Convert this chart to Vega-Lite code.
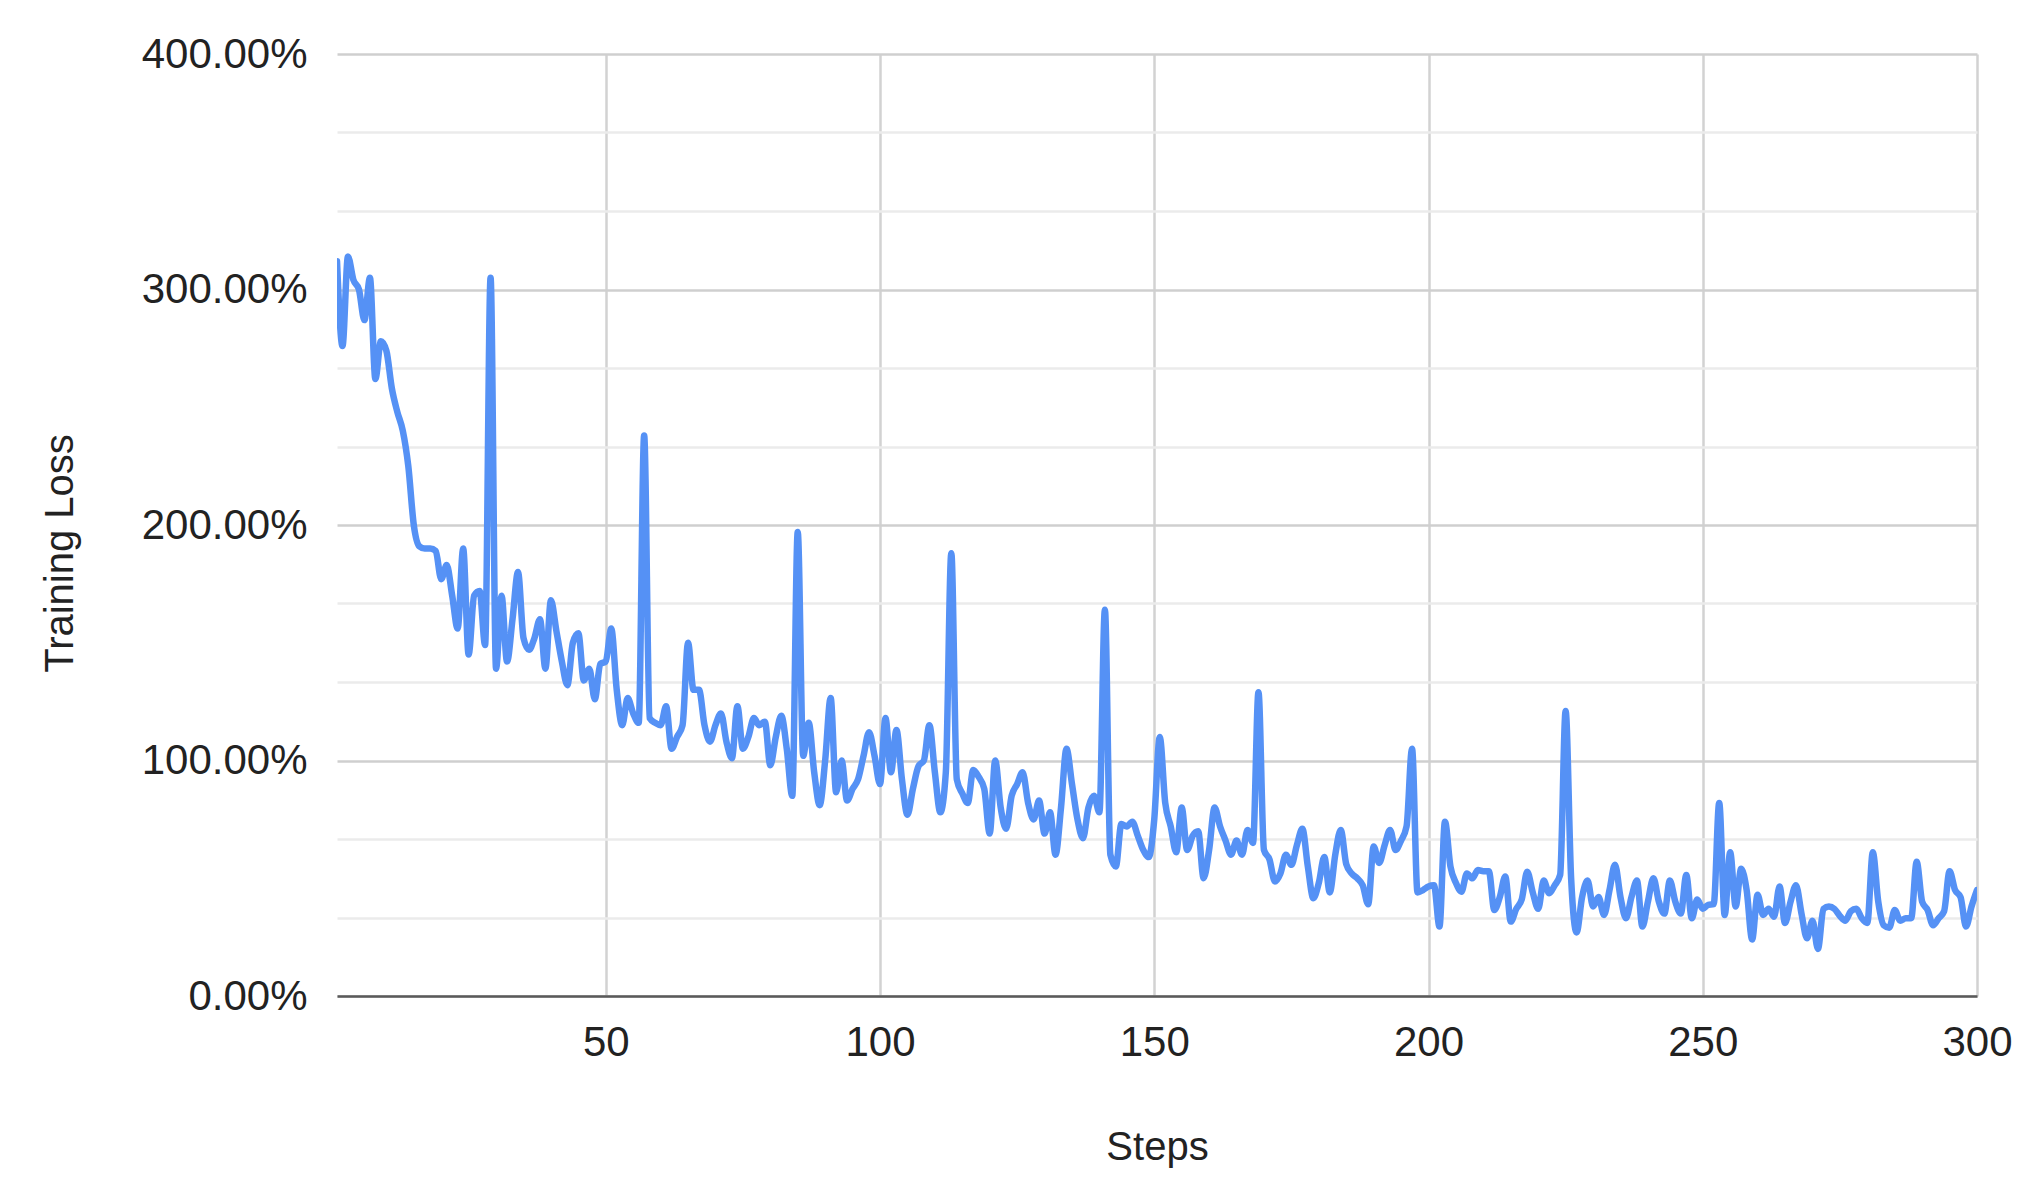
{
  "$schema": "https://vega.github.io/schema/vega-lite/v6.json",
  "width": 1640,
  "height": 942,
  "autosize": {"type": "none"},
  "padding": {"left": 337, "top": 54, "right": 56, "bottom": 204},
  "background": "white",
  "config": {
    "view": {"stroke": null},
    "font": "Liberation Sans",
    "axis": {"labelFont": "Liberation Sans", "titleFont": "Liberation Sans", "labelColor": "#222", "titleColor": "#222"}
  },
  "data": {"values": [
{"step":1,"loss":3.12},{"step":2,"loss":2.76},{"step":3,"loss":3.14},{"step":4,"loss":3.04},{"step":5,"loss":3.00},{"step":6,"loss":2.87},{"step":7,"loss":3.05},{"step":8,"loss":2.62},{"step":9,"loss":2.78},{"step":10,"loss":2.74},
{"step":11,"loss":2.58},{"step":12,"loss":2.48},{"step":13,"loss":2.40},{"step":14,"loss":2.25},{"step":15,"loss":2.00},{"step":16,"loss":1.91},{"step":17,"loss":1.90},{"step":18,"loss":1.90},{"step":19,"loss":1.89},{"step":20,"loss":1.77},
{"step":21,"loss":1.83},{"step":22,"loss":1.70},{"step":23,"loss":1.56},{"step":24,"loss":1.90},{"step":25,"loss":1.45},{"step":26,"loss":1.70},{"step":27,"loss":1.72},{"step":28,"loss":1.49},{"step":29,"loss":3.05},{"step":30,"loss":1.39},
{"step":31,"loss":1.70},{"step":32,"loss":1.42},{"step":33,"loss":1.60},{"step":34,"loss":1.80},{"step":35,"loss":1.52},{"step":36,"loss":1.47},{"step":37,"loss":1.52},{"step":38,"loss":1.60},{"step":39,"loss":1.39},{"step":40,"loss":1.68},
{"step":41,"loss":1.55},{"step":42,"loss":1.42},{"step":43,"loss":1.32},{"step":44,"loss":1.50},{"step":45,"loss":1.54},{"step":46,"loss":1.34},{"step":47,"loss":1.39},{"step":48,"loss":1.26},{"step":49,"loss":1.41},{"step":50,"loss":1.42},
{"step":51,"loss":1.56},{"step":52,"loss":1.30},{"step":53,"loss":1.15},{"step":54,"loss":1.265},{"step":55,"loss":1.20},{"step":56,"loss":1.16},{"step":57,"loss":2.38},{"step":58,"loss":1.18},{"step":59,"loss":1.16},{"step":60,"loss":1.15},
{"step":61,"loss":1.23},{"step":62,"loss":1.05},{"step":63,"loss":1.10},{"step":64,"loss":1.15},{"step":65,"loss":1.50},{"step":66,"loss":1.30},{"step":67,"loss":1.30},{"step":68,"loss":1.15},{"step":69,"loss":1.08},{"step":70,"loss":1.15},
{"step":71,"loss":1.20},{"step":72,"loss":1.08},{"step":73,"loss":1.01},{"step":74,"loss":1.23},{"step":75,"loss":1.05},{"step":76,"loss":1.10},{"step":77,"loss":1.18},{"step":78,"loss":1.15},{"step":79,"loss":1.165},{"step":80,"loss":0.98},
{"step":81,"loss":1.10},{"step":82,"loss":1.19},{"step":83,"loss":1.05},{"step":84,"loss":0.85},{"step":85,"loss":1.97},{"step":86,"loss":1.02},{"step":87,"loss":1.16},{"step":88,"loss":0.95},{"step":89,"loss":0.81},{"step":90,"loss":1.00},
{"step":91,"loss":1.265},{"step":92,"loss":0.865},{"step":93,"loss":1.00},{"step":94,"loss":0.83},{"step":95,"loss":0.88},{"step":96,"loss":0.92},{"step":97,"loss":1.02},{"step":98,"loss":1.12},{"step":99,"loss":1.02},{"step":100,"loss":0.90},
{"step":101,"loss":1.18},{"step":102,"loss":0.95},{"step":103,"loss":1.13},{"step":104,"loss":0.92},{"step":105,"loss":0.77},{"step":106,"loss":0.88},{"step":107,"loss":0.975},{"step":108,"loss":1.00},{"step":109,"loss":1.15},{"step":110,"loss":0.95},
{"step":111,"loss":0.78},{"step":112,"loss":0.95},{"step":113,"loss":1.88},{"step":114,"loss":0.92},{"step":115,"loss":0.86},{"step":116,"loss":0.82},{"step":117,"loss":0.96},{"step":118,"loss":0.93},{"step":119,"loss":0.88},{"step":120,"loss":0.69},
{"step":121,"loss":1.00},{"step":122,"loss":0.80},{"step":123,"loss":0.71},{"step":124,"loss":0.85},{"step":125,"loss":0.90},{"step":126,"loss":0.95},{"step":127,"loss":0.82},{"step":128,"loss":0.75},{"step":129,"loss":0.83},{"step":130,"loss":0.69},
{"step":131,"loss":0.78},{"step":132,"loss":0.60},{"step":133,"loss":0.80},{"step":134,"loss":1.05},{"step":135,"loss":0.90},{"step":136,"loss":0.75},{"step":137,"loss":0.67},{"step":138,"loss":0.80},{"step":139,"loss":0.85},{"step":140,"loss":0.78},
{"step":141,"loss":1.64},{"step":142,"loss":0.60},{"step":143,"loss":0.55},{"step":144,"loss":0.73},{"step":145,"loss":0.72},{"step":146,"loss":0.74},{"step":147,"loss":0.68},{"step":148,"loss":0.62},{"step":149,"loss":0.59},{"step":150,"loss":0.75},
{"step":151,"loss":1.10},{"step":152,"loss":0.82},{"step":153,"loss":0.72},{"step":154,"loss":0.61},{"step":155,"loss":0.80},{"step":156,"loss":0.62},{"step":157,"loss":0.68},{"step":158,"loss":0.70},{"step":159,"loss":0.50},{"step":160,"loss":0.62},
{"step":161,"loss":0.80},{"step":162,"loss":0.72},{"step":163,"loss":0.66},{"step":164,"loss":0.60},{"step":165,"loss":0.66},{"step":166,"loss":0.60},{"step":167,"loss":0.705},{"step":168,"loss":0.65},{"step":169,"loss":1.29},{"step":170,"loss":0.62},
{"step":171,"loss":0.58},{"step":172,"loss":0.486},{"step":173,"loss":0.52},{"step":174,"loss":0.60},{"step":175,"loss":0.557},{"step":176,"loss":0.64},{"step":177,"loss":0.71},{"step":178,"loss":0.55},{"step":179,"loss":0.415},{"step":180,"loss":0.48},
{"step":181,"loss":0.59},{"step":182,"loss":0.44},{"step":183,"loss":0.60},{"step":184,"loss":0.705},{"step":185,"loss":0.56},{"step":186,"loss":0.52},{"step":187,"loss":0.50},{"step":188,"loss":0.47},{"step":189,"loss":0.39},{"step":190,"loss":0.635},
{"step":191,"loss":0.565},{"step":192,"loss":0.64},{"step":193,"loss":0.705},{"step":194,"loss":0.62},{"step":195,"loss":0.66},{"step":196,"loss":0.72},{"step":197,"loss":1.05},{"step":198,"loss":0.44},{"step":199,"loss":0.45},{"step":200,"loss":0.465},
{"step":201,"loss":0.47},{"step":202,"loss":0.295},{"step":203,"loss":0.74},{"step":204,"loss":0.55},{"step":205,"loss":0.48},{"step":206,"loss":0.443},{"step":207,"loss":0.52},{"step":208,"loss":0.50},{"step":209,"loss":0.535},{"step":210,"loss":0.53},
{"step":211,"loss":0.53},{"step":212,"loss":0.365},{"step":213,"loss":0.42},{"step":214,"loss":0.507},{"step":215,"loss":0.316},{"step":216,"loss":0.37},{"step":217,"loss":0.41},{"step":218,"loss":0.528},{"step":219,"loss":0.44},{"step":220,"loss":0.37},
{"step":221,"loss":0.49},{"step":222,"loss":0.436},{"step":223,"loss":0.47},{"step":224,"loss":0.514},{"step":225,"loss":1.21},{"step":226,"loss":0.50},{"step":227,"loss":0.27},{"step":228,"loss":0.42},{"step":229,"loss":0.49},{"step":230,"loss":0.38},
{"step":231,"loss":0.42},{"step":232,"loss":0.344},{"step":233,"loss":0.45},{"step":234,"loss":0.557},{"step":235,"loss":0.42},{"step":236,"loss":0.33},{"step":237,"loss":0.42},{"step":238,"loss":0.49},{"step":239,"loss":0.295},{"step":240,"loss":0.40},
{"step":241,"loss":0.50},{"step":242,"loss":0.40},{"step":243,"loss":0.35},{"step":244,"loss":0.49},{"step":245,"loss":0.40},{"step":246,"loss":0.35},{"step":247,"loss":0.514},{"step":248,"loss":0.33},{"step":249,"loss":0.41},{"step":250,"loss":0.37},
{"step":251,"loss":0.387},{"step":252,"loss":0.39},{"step":253,"loss":0.82},{"step":254,"loss":0.344},{"step":255,"loss":0.61},{"step":256,"loss":0.38},{"step":257,"loss":0.54},{"step":258,"loss":0.45},{"step":259,"loss":0.24},{"step":260,"loss":0.43},
{"step":261,"loss":0.344},{"step":262,"loss":0.37},{"step":263,"loss":0.337},{"step":264,"loss":0.465},{"step":265,"loss":0.31},{"step":266,"loss":0.40},{"step":267,"loss":0.47},{"step":268,"loss":0.35},{"step":269,"loss":0.245},{"step":270,"loss":0.32},
{"step":271,"loss":0.20},{"step":272,"loss":0.37},{"step":273,"loss":0.38},{"step":274,"loss":0.37},{"step":275,"loss":0.34},{"step":276,"loss":0.32},{"step":277,"loss":0.36},{"step":278,"loss":0.37},{"step":279,"loss":0.33},{"step":280,"loss":0.31},
{"step":281,"loss":0.61},{"step":282,"loss":0.40},{"step":283,"loss":0.30},{"step":284,"loss":0.29},{"step":285,"loss":0.365},{"step":286,"loss":0.32},{"step":287,"loss":0.33},{"step":288,"loss":0.33},{"step":289,"loss":0.57},{"step":290,"loss":0.40},
{"step":291,"loss":0.365},{"step":292,"loss":0.30},{"step":293,"loss":0.33},{"step":294,"loss":0.36},{"step":295,"loss":0.53},{"step":296,"loss":0.45},{"step":297,"loss":0.42},{"step":298,"loss":0.295},{"step":299,"loss":0.38},{"step":300,"loss":0.45}
  ]},
  "mark": {"type": "line", "color": "#5591F5", "strokeWidth": 6.5, "interpolate": "monotone", "strokeJoin": "round", "strokeCap": "round", "clip": true},
  "encoding": {
    "x": {
      "field": "step", "type": "quantitative",
      "scale": {"domain": [1, 300], "nice": false, "zero": false},
      "axis": {
        "values": [50, 100, 150, 200, 250, 300],
        "title": "Steps",
        "titleFontSize": 40, "titleFontWeight": "normal",
        "titleY": 151, "titleBaseline": "middle", "titleX": 820, "titleAlign": "center",
        "labelFontSize": 42, "labelPadding": 26, "labelBaseline": "top",
        "ticks": false, "tickSize": 0,
        "grid": true, "gridColor": "#d2d2d2", "gridWidth": 2.5,
        "domain": true, "domainColor": "#5a5a5a", "domainWidth": 2.5,
        "labelFlush": false
      }
    },
    "y": {
      "field": "loss", "type": "quantitative",
      "scale": {"domain": [0, 4], "nice": false},
      "axis": {
        "values": [0, 0.333333, 0.666667, 1, 1.333333, 1.666667, 2, 2.333333, 2.666667, 3, 3.333333, 3.666667, 4],
        "format": ".2%",
        "labelExpr": "abs(datum.value - round(datum.value)) < 0.001 ? datum.label : ''",
        "title": "Training Loss",
        "titleFontSize": 40, "titleFontWeight": "normal",
        "titleX": -277, "titleY": 499, "titleBaseline": "middle", "titleAlign": "center", "titleAngle": -90,
        "labelFontSize": 42, "labelPadding": 30,
        "ticks": false, "tickSize": 0,
        "domain": false,
        "grid": true,
        "gridColor": {"condition": {"test": "abs(datum.value - round(datum.value)) < 0.001", "value": "#cfcfcf"}, "value": "#ebebeb"},
        "gridWidth": 2.5
      }
    }
  }
}
